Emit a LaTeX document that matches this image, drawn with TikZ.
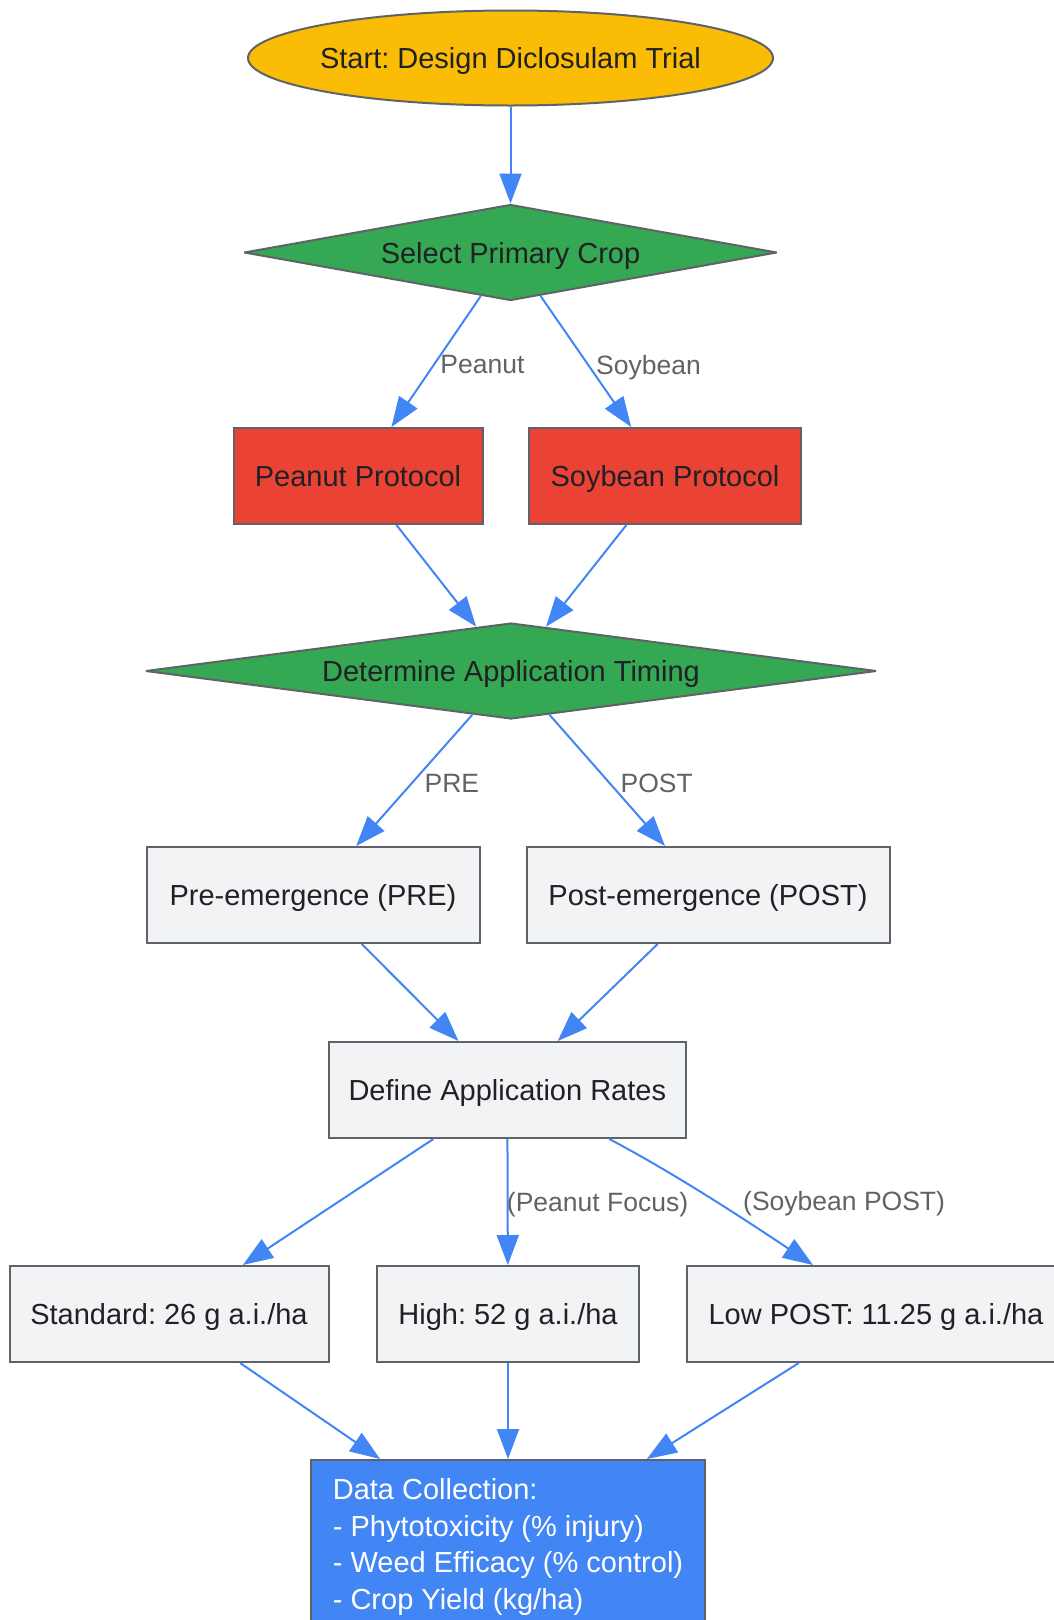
\documentclass[tikz,border=0pt]{standalone}
\usepackage{fontspec}
\setmainfont{Liberation Sans}
\usetikzlibrary{shapes.geometric,arrows.meta}
\definecolor{flowblue}{HTML}{4285F4}
\definecolor{startyellow}{HTML}{FBBC05}
\definecolor{choicegreen}{HTML}{34A853}
\definecolor{cropred}{HTML}{EA4335}
\definecolor{boxgrey}{HTML}{F1F3F4}
\definecolor{linegrey}{HTML}{5F6368}
\definecolor{textdark}{HTML}{202124}
\frenchspacing

\begin{document}
\begin{tikzpicture}[x=1pt,y=-1pt,
    every node/.style={font=\fontsize{29}{36.5}\selectfont,text=textdark},
    base/.style={draw=linegrey,line width=2pt,inner sep=0pt,minimum height=96pt},
    oneline/.style={base,text height=21pt,text depth=0pt},
    oval/.style={oneline,ellipse,fill=startyellow,minimum height=95pt},
    choice/.style={oneline,diamond,shape aspect=5.5,fill=choicegreen,line join=bevel},
    crop/.style={oneline,rectangle,fill=cropred},
    stepbox/.style={oneline,rectangle,fill=boxgrey},
    flow/.style={draw=flowblue,line width=2pt,-{Triangle[length=30pt,width=22pt]}},
    lbl/.style={font=\fontsize{26.5}{30}\selectfont,text=linegrey}]
      \useasboundingbox (0,0) rectangle (1054,1620);
      \node[oval,minimum width=525pt] (Start) at (510.5,58) {\makebox[0pt]{Start: Design Diclosulam Trial}};
      \node[choice,minimum width=533pt] (Crop) at (510.5,252.5) {Select Primary Crop};
      \node[crop,minimum width=249pt] (Peanut) at (358,476) {Peanut Protocol};
      \node[crop,minimum width=272pt] (Soybean) at (665,476) {Soybean Protocol};
      \node[choice,minimum width=731pt] (Timing) at (511,671) {Determine Application Timing};
      \node[stepbox,minimum width=333pt] (PRE) at (313,895) {Pre-emergence (PRE)};
      \node[stepbox,minimum width=363pt] (POST) at (708,895) {Post-emergence (POST)};
      \node[stepbox,minimum width=357pt] (Rates) at (507.3,1090) {Define Application Rates};
      \node[stepbox,minimum width=319pt] (Std) at (169,1314) {Standard: 26 g a.i./ha};
      \node[stepbox,minimum width=262pt] (High) at (508,1314) {High: 52 g a.i./ha};
      \node[stepbox,minimum width=378pt] (Low) at (876,1314) {Low POST: 11.25 g a.i./ha};
      \node[base,rectangle,fill=flowblue,text=white,align=left,minimum width=394pt,minimum height=174pt] (Data) at (508,1547)
        {Data Collection:\\- Phytotoxicity (\% injury)\\- Weed Efficacy (\% control)\\- Crop Yield (kg/ha)};
      \draw[flow] (Start) -- (Crop);
      \draw[flow] (Crop) -- node[lbl,midway,right,yshift=-3pt] {Peanut} (Peanut);
      \draw[flow] (Crop) -- node[lbl,midway,right,xshift=6pt,yshift=-6pt] {Soybean} (Soybean);
      \draw[flow] (Peanut) -- (Timing);
      \draw[flow] (Soybean) -- (Timing);
      \draw[flow] (Timing) -- node[lbl,midway,right,xshift=6pt,yshift=-3pt] {PRE} (PRE);
      \draw[flow] (Timing) -- node[lbl,midway,right,xshift=9pt,yshift=-3pt] {POST} (POST);
      \draw[flow] (PRE) -- (Rates);
      \draw[flow] (POST) -- (Rates);
      \draw[flow] (Rates) -- (Std);
      \draw[flow] (Rates) -- node[lbl,midway,right,xshift=-5pt,yshift=-3pt] {(Peanut Focus)} (High);
      \draw[flow] ([xshift=102pt]Rates.south) .. controls +(70,37) and +(-60,-40) .. ([xshift=-63pt]Low.north)
        node[lbl,pos=.5,right=24pt,yshift=-3pt] {(Soybean POST)};
      \draw[flow] (Std) -- (Data);
      \draw[flow] (High) -- (Data);
      \draw[flow] (Low) -- (Data);
\end{tikzpicture}
\end{document}
